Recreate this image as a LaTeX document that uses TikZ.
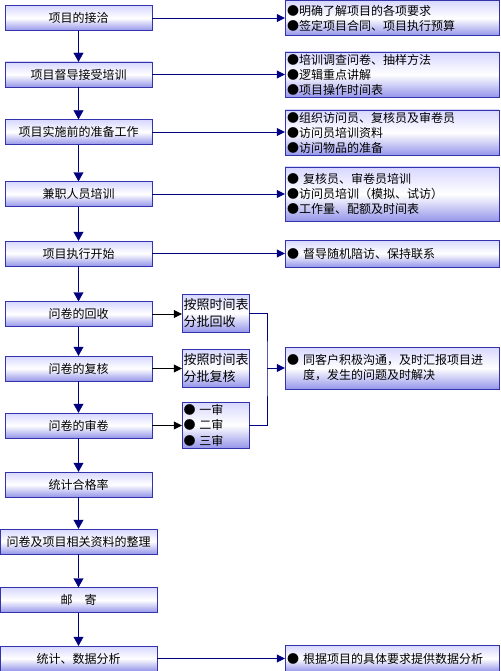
\documentclass[tikz,border=0pt]{standalone}
\usepackage{fontspec}
\setmainfont{Noto Sans CJK SC}
\usetikzlibrary{arrows.meta}
\definecolor{navy}{RGB}{0,0,128}
\definecolor{boxline}{RGB}{51,51,170}
\definecolor{boxtop}{RGB}{215,215,255}
\definecolor{boxbot}{RGB}{150,150,235}

\begin{document}
\begin{tikzpicture}[x=1pt,y=-1pt,
    font=\fontsize{12}{15}\selectfont,
    stepbox/.style={draw=boxline, top color=boxtop, bottom color=boxbot, middle color=white,
        minimum width=147pt, minimum height=25pt, inner sep=0pt},
    notebox/.style={stepbox, minimum width=214pt, text width=210pt, align=left, inner xsep=2pt},
    midbox/.style={stepbox, minimum width=67pt, text width=64pt, align=left, inner xsep=1.5pt,
        font=\fontsize{13}{17}\selectfont},
    flow/.style={navy, -{Triangle[length=9pt,width=10pt]}},
    side/.style={navy, -{Triangle[length=8pt,width=8pt]}},
    sub/.style={black, -{Triangle[length=8pt,width=8pt]}}]
    \useasboundingbox (0,0) rectangle (500,671);

    % main steps
    \foreach \n/\y/\t in {1/18/项目的接洽, 2/74.5/项目督导接受培训, 3/132/项目实施前的准备工作,
        4/194/兼职人员培训, 5/253.5/项目执行开始, 6/314/问卷的回收, 7/368.5/问卷的复核,
        8/425.5/问卷的审卷, 9/484.5/统计合格率}
        \node[stepbox] (s\n) at (78.5,\y) {\t};
    \foreach \n/\y/\t in {10/541.5/问卷及项目相关资料的整理, 11/600/邮\quad 寄, 12/658.5/统计、数据分析}
        \node[stepbox, minimum width=157pt] (s\n) at (78.5,\y) {\t};
    \foreach \i [count=\j from 2] in {1,...,11}
        \draw[flow] (s\i) -- (s\j);

    % notes
    \node[notebox, minimum height=35pt] (n1) at (392,18) {●明确了解项目的各项要求\\●签定项目合同、项目执行预算};
    \node[notebox, minimum height=45pt] (n2) at (392,74.5) {●培训调查问卷、抽样方法\\●逻辑重点讲解\\●项目操作时间表};
    \node[notebox, minimum height=45pt] (n3) at (392,132.5) {●组织访问员、复核员及审卷员\\●访问员培训资料\\●访问物品的准备};
    \node[notebox, minimum height=54pt] (n4) at (392,194) {● 复核员、审卷员培训\\●访问员培训（模拟、试访）\\●工作量、配额及时间表};
    \node[notebox, minimum height=27pt] (n5) at (392,253.5) {● 督导随机陪访、保持联系};
    \node[notebox, minimum height=42pt] (n6) at (392,368) {● 同客户积极沟通，及时汇报项目进\\\phantom{● }度，发生的问题及时解决};
    \node[notebox, minimum height=26pt] (n7) at (392,658.5) {● 根据项目的具体要求提供数据分析};
    \foreach \i/\j in {1/1, 2/2, 3/3, 4/4, 5/5, 12/7}
        \draw[side] (s\i.east) -- (s\i.east -| n\j.west);

    % checks
    \node[midbox, minimum height=38pt] (m1) at (215.5,313) {按照时间表\\分批回收};
    \node[midbox, minimum height=38pt] (m2) at (215.5,368) {按照时间表\\分批复核};
    \node[midbox, minimum height=46pt, font=\fontsize{12}{15.5}\selectfont] (m3) at (215.5,425) {● 一审\\● 二审\\● 三审};
    \foreach \i/\j in {6/1, 7/2, 8/3}
        \draw[sub] (s\i.east) -- (s\i.east -| m\j.west);
    \coordinate (brk) at (267,368);
    \draw[navy] (m1.east) -| (brk) |- (m3.east);
    \draw[side] (brk) -- (brk -| n6.west);

\end{tikzpicture}
\end{document}
